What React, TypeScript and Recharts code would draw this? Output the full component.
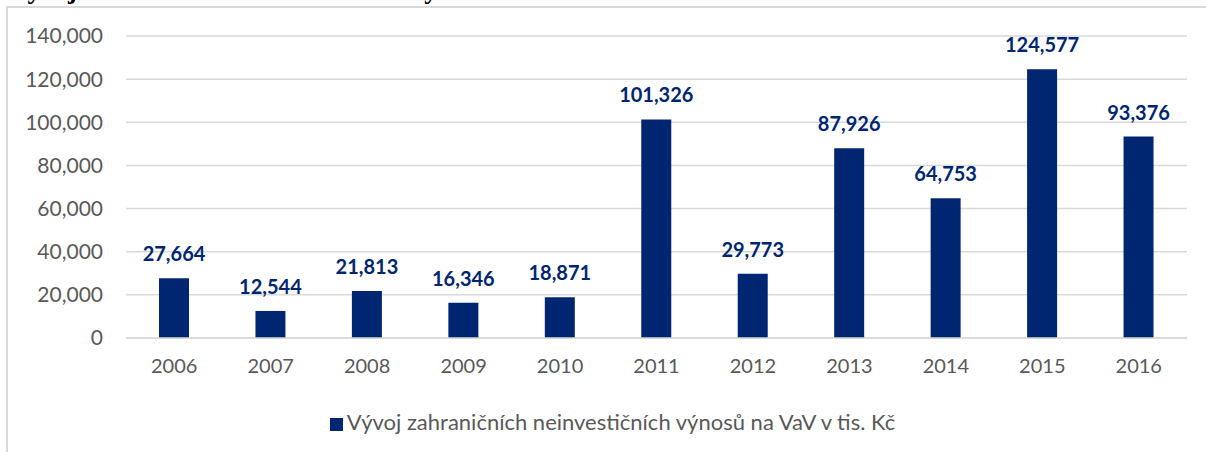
import { BarChart, Bar, XAxis, YAxis, CartesianGrid, Legend, LabelList } from 'recharts';

const years = ['2006', '2007', '2008', '2009', '2010', '2011', '2012', '2013', '2014', '2015', '2016'];
const revenues = [27664, 12544, 21813, 16346, 18871, 101326, 29773, 87926, 64753, 124577, 93376];
const yTicks = [0, 20000, 40000, 60000, 80000, 100000, 120000, 140000];
const seriesName = 'Vývoj zahraničních neinvestičních výnosů na VaV v tis. Kč';
const title = 'Vývoj zahraničních neinvestičních výnosů na VaV';

const data = years.map((year, i) => ({ year, value: revenues[i] }));

const fmt = (v: number) => v.toLocaleString('en-US');
const font = 'Lato, "Open Sans", sans-serif';

export default function App() {
  return (
    <div style={{ position: 'absolute', left: 0, top: 0, width: 1206, height: 452, overflow: 'hidden', background: '#fff' }}>
      <div
        style={{
          position: 'absolute', left: 8, top: -24, whiteSpace: 'nowrap', lineHeight: 1,
          fontFamily: '"Liberation Serif", serif', fontWeight: 'bold', fontSize: 27, color: '#000',
        }}
      >
        {title}
      </div>
      <div
        style={{
          position: 'absolute', left: 6, top: 6, width: 1210, height: 460,
          border: '2px solid #d9d9d9', boxSizing: 'border-box', background: '#fff',
        }}
      />
      <div style={{ position: 'absolute', left: 0, top: 0 }}>
        <BarChart width={1206} height={452} data={data} margin={{ top: 36, right: 19, left: 0, bottom: 57 }}>
          <CartesianGrid vertical={false} stroke="#d9d9d9" strokeWidth={1.5} />
          <XAxis
            dataKey="year"
            axisLine={{ stroke: '#d9d9d9', strokeWidth: 1.5 }}
            tickLine={false}
            tickSize={0}
            tickMargin={21}
            tick={{ fill: '#595959', fontSize: 20, fontFamily: font }}
          />
          <YAxis
            domain={[0, 140000]}
            ticks={yTicks}
            width={126}
            axisLine={false}
            tickLine={false}
            tickSize={0}
            tickMargin={23}
            tickFormatter={fmt}
            tick={{ fill: '#595959', fontSize: 21, fontFamily: font }}
          />
          <Legend
            verticalAlign="bottom"
            iconType="square"
            iconSize={13}
            wrapperStyle={{ top: 408, left: 24, fontFamily: font, fontSize: 22 }}
            formatter={(v: string) => <span style={{ color: '#595959' }}>{v}</span>}
          />
          <Bar dataKey="value" name={seriesName} fill="#002672" barSize={30} isAnimationActive={false}>
            <LabelList
              dataKey="value"
              position="top"
              offset={17}
              formatter={(v: number) => fmt(v)}
              style={{ fill: '#002672', fontSize: 20, fontWeight: 'bold', fontFamily: font }}
            />
          </Bar>
        </BarChart>
      </div>
    </div>
  );
}
